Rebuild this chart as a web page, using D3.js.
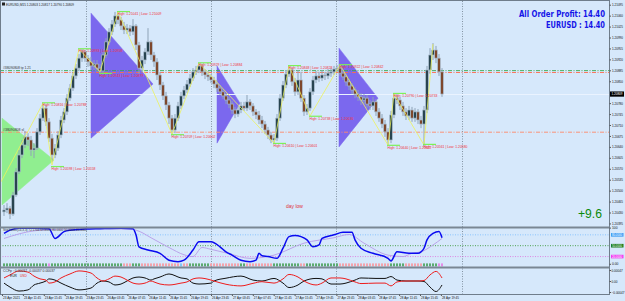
<!DOCTYPE html>
<html><head><meta charset="utf-8">
<script src="https://cdn.jsdelivr.net/npm/d3@7"></script>
<style>
html,body{margin:0;padding:0;background:#d6e8fb;overflow:hidden;}
svg{display:block;font-family:"Liberation Sans","DejaVu Sans",sans-serif;}
</style></head><body>
<svg id="c" width="625" height="301"></svg>
<script>
// ---------------- DATA ----------------
const firstOpen = 1.20432;
const closes = [
1.20438,1.20444,1.20425,1.20486,1.20560,1.20614,1.20646,1.20672,1.20662,1.20630,
1.20636,1.20688,1.20732,1.20764,1.20720,1.20668,1.20614,1.20636,1.20678,1.20726,
1.20752,1.20796,1.20828,1.20867,1.20892,1.20924,1.20944,1.20924,1.20912,1.20899,
1.20905,1.20892,1.20883,1.20934,1.20976,1.21008,1.21033,1.21059,1.21046,1.21027,
1.21014,1.21020,1.21008,1.21027,1.20966,1.20892,1.20918,1.20944,1.20976,1.20934,
1.20912,1.20870,1.20838,1.20803,1.20774,1.20732,1.20694,1.20732,1.20771,1.20803,
1.20822,1.20841,1.20860,1.20880,1.20886,1.20899,1.20880,1.20870,1.20864,1.20854,
1.20841,1.20828,1.20816,1.20803,1.20790,1.20777,1.20758,1.20745,1.20758,1.20771,
1.20764,1.20784,1.20771,1.20752,1.20742,1.20726,1.20713,1.20694,1.20678,1.20662,
1.20668,1.20732,1.20796,1.20838,1.20873,1.20886,1.20848,1.20816,1.20854,1.20796,
1.20752,1.20764,1.20816,1.20854,1.20867,1.20860,1.20870,1.20867,1.20876,1.20880,
1.20889,1.20892,1.20876,1.20864,1.20848,1.20835,1.20822,1.20809,1.20800,1.20790,
1.20796,1.20777,1.20771,1.20784,1.20752,1.20732,1.20713,1.20688,1.20662,1.20742,
1.20796,1.20790,1.20771,1.20752,1.20739,1.20758,1.20732,1.20752,1.20726,1.20713,
1.20758,1.20886,1.20934,1.20950,1.20924,1.20880,1.20809];
const highs = [
1.20454,1.20460,1.20451,1.20496,1.20572,1.20630,1.20662,1.20691,1.20684,1.20675,
1.20652,1.20700,1.20745,1.20777,1.20774,1.20732,1.20681,1.20649,1.20691,1.20739,
1.20764,1.20809,1.20841,1.20880,1.20905,1.20937,1.20953,1.20950,1.20934,1.20928,
1.20918,1.20918,1.20905,1.20944,1.20988,1.21020,1.21046,1.21072,1.21068,1.21056,
1.21040,1.21033,1.21030,1.21049,1.21033,1.20976,1.20931,1.20956,1.21020,1.20982,
1.20944,1.20924,1.20880,1.20848,1.20816,1.20784,1.20742,1.20745,1.20784,1.20816,
1.20835,1.20854,1.20873,1.20892,1.20899,1.20908,1.20905,1.20889,1.20883,1.20873,
1.20864,1.20854,1.20838,1.20825,1.20812,1.20800,1.20787,1.20768,1.20771,1.20784,
1.20784,1.20806,1.20793,1.20780,1.20761,1.20755,1.20739,1.20723,1.20704,1.20688,
1.20681,1.20745,1.20809,1.20851,1.20886,1.20899,1.20892,1.20860,1.20886,1.20880,
1.20806,1.20777,1.20828,1.20867,1.20883,1.20880,1.20886,1.20880,1.20889,1.20892,
1.20899,1.20902,1.20899,1.20886,1.20873,1.20857,1.20844,1.20832,1.20822,1.20812,
1.20809,1.20806,1.20790,1.20800,1.20793,1.20764,1.20745,1.20726,1.20700,1.20755,
1.20812,1.20809,1.20800,1.20784,1.20764,1.20771,1.20768,1.20764,1.20761,1.20739,
1.20771,1.20899,1.20956,1.20972,1.20963,1.20937,1.20892];
const lows = [
1.20419,1.20428,1.20409,1.20419,1.20480,1.20553,1.20604,1.20636,1.20643,1.20611,
1.20604,1.20630,1.20678,1.20723,1.20707,1.20656,1.20592,1.20604,1.20627,1.20668,
1.20716,1.20742,1.20787,1.20819,1.20857,1.20883,1.20912,1.20912,1.20896,1.20886,
1.20886,1.20880,1.20873,1.20876,1.20924,1.20966,1.20998,1.21024,1.21033,1.21014,
1.21001,1.21001,1.20995,1.20998,1.20950,1.20873,1.20880,1.20905,1.20934,1.20918,
1.20896,1.20854,1.20822,1.20790,1.20758,1.20713,1.20681,1.20684,1.20723,1.20761,
1.20793,1.20812,1.20832,1.20851,1.20870,1.20876,1.20867,1.20857,1.20851,1.20844,
1.20828,1.20816,1.20806,1.20793,1.20777,1.20764,1.20745,1.20732,1.20736,1.20748,
1.20755,1.20755,1.20758,1.20739,1.20729,1.20713,1.20700,1.20681,1.20665,1.20652,
1.20652,1.20659,1.20723,1.20787,1.20828,1.20864,1.20835,1.20803,1.20806,1.20784,
1.20739,1.20742,1.20755,1.20806,1.20844,1.20848,1.20851,1.20854,1.20857,1.20864,
1.20870,1.20880,1.20867,1.20854,1.20835,1.20822,1.20809,1.20796,1.20787,1.20774,
1.20777,1.20764,1.20758,1.20758,1.20739,1.20720,1.20700,1.20672,1.20646,1.20652,
1.20732,1.20777,1.20758,1.20739,1.20726,1.20726,1.20720,1.20720,1.20713,1.20700,
1.20643,1.20748,1.20873,1.20918,1.20908,1.20867,1.20800];

const priceTicks = [1.21095,1.21060,1.21025,1.20990,1.20955,1.20920,1.20885,1.20850,1.20815,1.20780,
1.20745,1.20710,1.20675,1.20640,1.20605,1.20570,1.20535,1.20500,1.20465,1.20430,1.20395];

const timeHours = [0,4,8,12,16,20,24,28,32,36,40,44,48,52,56,60,64,68,72,76,80,84];
const timeLabels = ["23 Apr 2021","23 Apr 11:45","23 Apr 15:45","23 Apr 19:45","23 Apr 23:45",
"26 Apr 03:45","26 Apr 07:45","26 Apr 11:45","26 Apr 15:45","26 Apr 19:45","26 Apr 23:45",
"27 Apr 03:45","27 Apr 07:45","27 Apr 11:45","27 Apr 15:45","27 Apr 19:45","27 Apr 23:45",
"28 Apr 03:45","28 Apr 07:45","28 Apr 11:45","28 Apr 15:45","28 Apr 19:45"];
const daySepHours = [16,40,64,88];

const swingIdx = [13,16,25,32,38,56,65,90,95,102,112,128,130,140];
const swingPrice = [1.20781,1.20577,1.20954,1.20875,1.21073,1.20679,1.20909,1.20651,1.20900,1.20738,1.20903,1.20645,1.20811,1.20648];
const swingText = ["High: 1.20816 | Low: 1.20788","High: 1.20598 | Low: 1.20558","High: 1.20993 | Low: 1.20958",
"High: 1.20943 | Low: 1.20879","High: 1.21041 | Low: 1.21009","High: 1.20709 | Low: 1.20602",
"High: 1.20929 | Low: 1.20884","High: 1.20610 | Low: 1.20601","High: 1.20848 | Low: 1.20828",
"High: 1.20738 | Low: 1.20636","High: 1.20922 | Low: 1.20842","High: 1.20640 | Low: 1.20622",
"High: 1.20790 | Low: 1.20733","High: 1.20561 | Low: 1.20580"];

const zzIdx = [-1,13,16,25,32,38,56,65,90,95,102,112,128,130,140,143];
const zzPrice = [1.20528,1.20780,1.20582,1.20953,1.20880,1.21072,1.20681,1.20908,1.20652,1.20899,1.20739,1.20902,1.20646,1.20809,1.20646,1.20969];

const patternIdx = [[-0.67,16.67,-0.67],[29,49.67,29],[71,78.67,71],[111.67,124.67,111.67]];
const patternPrice = [[1.20732,1.20598,1.20454],[1.21068,1.20841,1.20668],[1.20899,1.20780,1.20652],[1.20956,1.20796,1.20640]];

const orderLevels = [1.20884,1.20878,1.20687];

const oscIdx = [0,2,5,10,15,17,20,22,27,32,39,43,44,45,48,52,55,58,60,63,65,69,72,74,76,79,82,84,85,86,88,91,93,95,97,99,101,103,105,106,110,113,116,117,119,123,128,129,131,135,138,139,140,141,143,145,146];
const oscMain = [84,93,98,98,97,70,89,93,96,97,98,97,80,47,38,29,10,6,10,38,61,61,47,33,24,10,6,10,29,22,20,15,43,75,78,75,66,47,52,70,80,87,87,66,43,29,15,8,33,29,29,33,43,66,84,89,72];
const sigIdx = [0,10,20,30,42,45,49,55,60,63,66,69,75,82,90,100,110,115,120,128,133,136,139,143,146];
const sigVal = [70,91,96,97,96,90,72,45,25,20,45,40,28,15,24,57,72,81,57,24,20,29,33,52,70];
const oscLevels = [80,50,20];
const trendStates = ["ggggggggggggggg","v","gggggggggggggggggggggggg","rrr","ggg","rrrrrrrrrrrrr","b","rr","ggggg",
"ggrrr","rrrrrrr","ggrr","rrrrrrr","ggggggggg","rrgggg","gggggggrr","rrrrrrrrrrrrrr","rggggg","rrrrrr","ggggg","vv"].join("");

const ccfIdx = [0,2,5,8,10,12,14,15,17,19,22,25,29,31,33,35,37,39,41,43,45,47,49,50,52,55,59,61,63,65,69,70,74,79,83,86,90,93,95,98,100,104,106,109,112,114,117,119,124,127,129,131,134,135,138,140,142,144,146];
const usdVals = [0.00013,0.00026,0.00043,0.00038,0.00021,0.00009,0.00004,-0.00009,-0.00004,0.00013,0.00030,0.00043,0.00034,0.00013,0,0.00009,0.00021,0.00017,0.00004,-0.00009,-0.00013,-0.00009,0,-0.00004,-0.00013,-0.00017,-0.00009,-0.00004,0.00009,0.00013,0.00004,0,-0.00014,-0.00021,-0.00010,-0.00003,-0.00009,0.00009,0.00028,0.00017,0,-0.00017,-0.00009,0.00013,0.00013,0.00009,-0.00004,-0.00011,-0.00009,-0.00009,-0.00021,-0.00004,0,0,0,0.00002,0.00026,0.00041,0.00013];
const eurVals = [-0.00009,-0.00026,-0.00043,-0.00038,-0.00017,-0.00009,0,0.00009,0.00004,-0.00009,-0.00026,-0.00038,-0.00030,-0.00009,0,-0.00004,-0.00017,-0.00013,0,0.00013,0.00017,0.00013,0.00004,0.00009,0.00017,0.00030,0.00013,0.00009,-0.00009,-0.00013,-0.00009,0,0.00012,0.00021,0.00004,0,0.00011,-0.00009,-0.00028,-0.00017,0,0.00011,0.00009,-0.00013,-0.00013,-0.00009,0.00004,0.00013,0.00011,0.00011,0.00019,0.00004,0,0,0,-0.00002,-0.00026,-0.00045,-0.00017];

// ---------------- SCALES ----------------
const svg = d3.select("#c");
const x = d3.scaleLinear().domain([0,146]).range([4,442]);
const xt = d3.scaleLinear().domain([0,24]).range([2,127.4]);
const yP = d3.scaleLinear().domain([1.21110, 1.21110-0.000032*226]).range([0,226]);
const yO = d3.scaleLinear().domain([0,100]).range([263.8,227.6]);
const yC = d3.scaleLinear().domain([-0.00047,0.00047]).range([292,270]);
const AX = 609.5;
const lastP = closes[closes.length-1];

svg.append("rect").attr("width",625).attr("height",301).attr("fill","#d6e8fb");
const defs = svg.append("defs");
defs.append("clipPath").attr("id","clipMain").append("rect").attr("x",0).attr("y",1).attr("width",609).attr("height",226);

// day separators
svg.append("g").selectAll("line").data(daySepHours).join("line")
  .attr("x1",d=>Math.round(xt(d))+0.5).attr("x2",d=>Math.round(xt(d))+0.5)
  .attr("y1",1).attr("y2",294).attr("stroke","#8393a2").attr("stroke-width",1).attr("stroke-dasharray","1,1.5");

const gm = svg.append("g").attr("clip-path","url(#clipMain)");

// harmonic pattern triangles
const triColors = ["#90ee90","#7b68ee","#7b68ee","#7b68ee"];
patternIdx.forEach((pi,k)=>{
  const pts = pi.map((v,j)=>[x(v), yP(patternPrice[k][j])]);
  gm.append("path").attr("d","M"+pts.join("L")+"Z").attr("fill",triColors[k]).attr("stroke",triColors[k]).attr("stroke-width",0.5);
});

// bid line
gm.append("line").attr("x1",0).attr("x2",609).attr("y1",Math.round(yP(lastP))+0.5).attr("y2",Math.round(yP(lastP))+0.5)
  .attr("stroke","#eaf3ff").attr("stroke-width",1);

// order lines
const orderColors = ["#3aa84e","#ff6a4d","#ff8a6a"];
orderLevels.forEach((p,k)=>{
  gm.append("line").attr("x1",0).attr("x2",609).attr("y1",yP(p)).attr("y2",yP(p))
    .attr("stroke",orderColors[k]).attr("stroke-width",0.9).attr("stroke-dasharray","4,1.5,1,1.5");
});
gm.append("text").attr("x",3).attr("y",yP(orderLevels[0])-1.2).attr("font-size",3.4).attr("fill","#333")
  .attr("textLength",28).attr("lengthAdjust","spacingAndGlyphs").text("#38090808 tp 1.21");
gm.append("text").attr("x",3).attr("y",yP(orderLevels[2])-1.2).attr("font-size",3.4).attr("fill","#333")
  .attr("textLength",21).attr("lengthAdjust","spacingAndGlyphs").text("#38090808 sl");

// candles
const candles = closes.map((c,i)=>({i, o: i ? closes[i-1] : firstOpen, c, h: highs[i], l: lows[i]}));
gm.append("g").selectAll("line").data(candles).join("line")
  .attr("x1",d=>x(d.i)).attr("x2",d=>x(d.i)).attr("y1",d=>yP(d.h)).attr("y2",d=>yP(d.l))
  .attr("stroke","#8ea3b7").attr("stroke-width",1);
gm.append("g").selectAll("rect").data(candles).join("rect")
  .attr("x",d=>x(d.i)-1.3).attr("width",2.6)
  .attr("y",d=>yP(Math.max(d.o,d.c)))
  .attr("height",d=>Math.max(0.8, Math.abs(yP(d.o)-yP(d.c))))
  .attr("fill",d=>d.c>=d.o ? "#223e4a" : "#7c4224")
  .attr("stroke","#a9bccd").attr("stroke-width",0.7);

// zigzag
gm.append("path").datum(zzIdx.map((v,k)=>[x(v), yP(zzPrice[k])]))
  .attr("d",d3.line()).attr("fill","none").attr("stroke","#eef25a").attr("stroke-width",0.8);

// swing markers & labels
swingIdx.forEach((v,k)=>{
  const sx = x(v)-1, sy = yP(swingPrice[k]);
  gm.append("line").attr("x1",sx).attr("x2",sx+13).attr("y1",sy).attr("y2",sy).attr("stroke","#7cf05a").attr("stroke-width",1.2);
  gm.append("text").attr("x",sx+0.5).attr("y",sy+3.6).attr("font-size",3.3).attr("fill","#f0303a")
    .attr("textLength",44).attr("lengthAdjust","spacingAndGlyphs").text(swingText[k]);
});

// day low text
svg.append("text").attr("x",x(94)).attr("y",yP(1.20444)).attr("font-size",5).attr("fill","#e0303a").text("day low");

// header
svg.append("path").attr("d","M2,2.5h3v3h-3z").attr("fill","#222");
svg.append("text").attr("x",6).attr("y",5.6).attr("font-size",3.4).attr("fill","#222")
  .attr("textLength",68).attr("lengthAdjust","spacingAndGlyphs").text("EURUSD,M15  1.20803 1.20817 1.20790 1.20809");

// profit texts
const pf = svg.append("g").attr("font-family","'Liberation Sans Narrow','DejaVu Sans Condensed',sans-serif").attr("font-weight","bold").attr("fill","#1515e8").attr("text-anchor","end");
pf.append("text").attr("x",605).attr("y",17).attr("font-size",8).attr("textLength",86).attr("lengthAdjust","spacingAndGlyphs").text("All Order Profit: 14.40");
pf.append("text").attr("x",605).attr("y",27.5).attr("font-size",8).attr("textLength",59).attr("lengthAdjust","spacingAndGlyphs").text("EURUSD : 14.40");
svg.append("text").attr("x",602).attr("y",217.5).attr("font-size",13).attr("fill","#0a8a0a").attr("text-anchor","end")
  .attr("textLength",24).attr("lengthAdjust","spacingAndGlyphs").text("+9.6");

// ---------------- Panel 1 (oscillator) ----------------
const levelColors = ["#7fc0ff","#3c9a3c","#e07be0"];
oscLevels.forEach((lv,k)=>{
  svg.append("line").attr("x1",0).attr("x2",609).attr("y1",yO(lv)).attr("y2",yO(lv))
    .attr("stroke",levelColors[k]).attr("stroke-width",0.9).attr("stroke-dasharray","1,1.5");
});
svg.append("g").selectAll("rect").data(trendStates.split("")).join("rect")
  .attr("x",(d,i)=>x(i)-1).attr("y",263.4).attr("width",2).attr("height",3)
  .attr("fill",d=>({g:"#5cab70",r:"#f3a3ac",b:"#84c6f4",v:"#e58be8"})[d]);
svg.append("path").datum(sigIdx.map((v,k)=>[x(v), yO(sigVal[k])]))
  .attr("d",d3.line().curve(d3.curveMonotoneX)).attr("fill","none").attr("stroke","#b79be8").attr("stroke-width",0.9);
svg.append("path").datum(oscIdx.map((v,k)=>[x(v), yO(oscMain[k])]))
  .attr("d",d3.line().curve(d3.curveMonotoneX)).attr("fill","none").attr("stroke","#0a0af0").attr("stroke-width",1.5);
svg.append("text").attr("x",3).attr("y",231).attr("font-size",3.3).attr("fill","#333")
  .attr("textLength",84).attr("lengthAdjust","spacingAndGlyphs").text("Stochastic(14,3,3) 72.1704 69.8531 80.0000 50.0000 20.0000");

// ---------------- Panel 2 (CCFp) ----------------
svg.append("path").datum(ccfIdx.map((v,k)=>[x(v), yC(eurVals[k])]))
  .attr("d",d3.line().curve(d3.curveMonotoneX)).attr("fill","none").attr("stroke","#111").attr("stroke-width",1);
svg.append("path").datum(ccfIdx.map((v,k)=>[x(v), yC(usdVals[k])]))
  .attr("d",d3.line().curve(d3.curveMonotoneX)).attr("fill","none").attr("stroke","#ee1c1c").attr("stroke-width",1);
svg.append("text").attr("x",3).attr("y",272).attr("font-size",3.3).attr("fill","#333")
  .attr("textLength",52).attr("lengthAdjust","spacingAndGlyphs").text("CCFp  : 0.00037  -0.00037  0.00037");
svg.append("text").attr("x",10).attr("y",276.5).attr("font-size",3.2).attr("fill","#111").text("EUR");
svg.append("text").attr("x",20).attr("y",276.5).attr("font-size",3.2).attr("fill","#ee1c1c").text("USD");

// ---------------- Frames ----------------
svg.append("rect").attr("x",0.5).attr("y",0.5).attr("width",609).attr("height",294).attr("fill","none").attr("stroke","#6f7d8b").attr("stroke-width",1);
svg.append("line").attr("x1",0).attr("x2",AX).attr("y1",227.5).attr("y2",227.5).attr("stroke","#7a8794").attr("stroke-width",2);
svg.append("line").attr("x1",0).attr("x2",AX).attr("y1",267.5).attr("y2",267.5).attr("stroke","#7a8794").attr("stroke-width",2);

// ---------------- Axes ----------------
function styleAxis(g, fs, len){
  g.select(".domain").remove();
  g.selectAll("line").attr("stroke","#555");
  g.selectAll("text").attr("font-size",fs).attr("fill","#111").attr("font-family","'Liberation Sans',sans-serif");
  if(len) g.selectAll("text").attr("textLength",len).attr("lengthAdjust","spacingAndGlyphs");
}
const shownTicks = priceTicks.filter(p => Math.abs(yP(p)-yP(lastP)) > 4);
const ay = svg.append("g").attr("transform",`translate(${AX},0)`)
  .call(d3.axisRight(yP).tickValues(shownTicks).tickFormat(d3.format(".5f")).tickSize(1.5).tickPadding(1));
styleAxis(ay, 3.3, 11);

// current price box
svg.append("rect").attr("x",AX+0.5).attr("y",yP(lastP)-2.6).attr("width",14).attr("height",5.2).attr("fill","#000");
svg.append("text").attr("x",AX+2).attr("y",yP(lastP)+1.3).attr("font-size",3.3).attr("fill","#fff")
  .attr("textLength",11).attr("lengthAdjust","spacingAndGlyphs").text(d3.format(".5f")(lastP));

const ao = svg.append("g").attr("transform",`translate(${AX},0)`)
  .call(d3.axisRight(yO).tickValues([100,0]).tickFormat(d=>d===0?"0.00":"100").tickSize(1.5).tickPadding(1));
styleAxis(ao, 3.3);
const boxColors = ["#3d9df5","#177a17","#f03cf0"];
oscLevels.forEach((lv,k)=>{
  svg.append("rect").attr("x",AX+1.5).attr("y",yO(lv)-1.8).attr("width",12.5).attr("height",3.6).attr("fill",boxColors[k]);
  svg.append("text").attr("x",AX+2.5).attr("y",yO(lv)+1.2).attr("font-size",3.1).attr("fill","#fff")
    .attr("textLength",10).attr("lengthAdjust","spacingAndGlyphs").text(d3.format(".4f")(lv));
});
const ac = svg.append("g").attr("transform",`translate(${AX},0)`)
  .call(d3.axisRight(yC).tickValues([0.00047,0,-0.00047]).tickFormat(d=>d===0?"0.00":d3.format(".5f")(d)).tickSize(1.5).tickPadding(0.5));
styleAxis(ac, 3.1);

const at = svg.append("g").attr("transform","translate(0,294.5)")
  .call(d3.axisBottom(xt).tickValues(timeHours).tickFormat((d,k)=>timeLabels[k]).tickSize(1.5).tickPadding(0.2));
styleAxis(at, 3.4, 17);
at.selectAll("text").attr("text-anchor","start").attr("x",0.5);
</script>
</body></html>
